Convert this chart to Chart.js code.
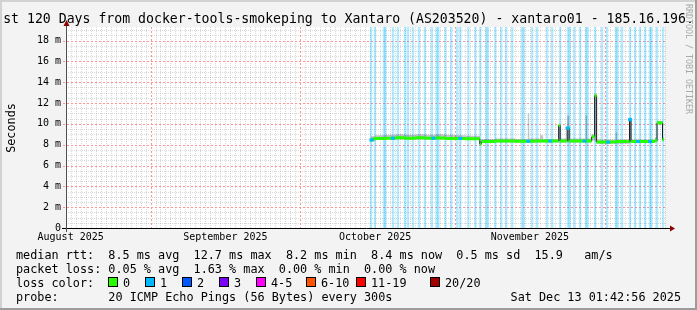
<!DOCTYPE html>
<html><head><meta charset="utf-8">
<script src="https://cdn.jsdelivr.net/npm/chart.js@4.4.0/dist/chart.umd.min.js"></script>
<style>html,body{margin:0;padding:0;background:#f3f3f3;}canvas{display:block;}</style>
</head><body>
<canvas id="c" width="697" height="310"></canvas>
<script>
// ---------- texts ----------
const TITLE = "st 120 Days from docker-tools-smokeping to Xantaro (AS203520) - xantaro01 - 185.16.196.";
const Y_LABEL = "Seconds";
const WATERMARK = "RRDTOOL / TOBI OETIKER";
const statsRows = [
  "median rtt:  8.5 ms avg  12.7 ms max  8.2 ms min  8.4 ms now  0.5 ms sd  15.9   am/s",
  "packet loss: 0.05 % avg  1.63 % max  0.00 % min  0.00 % now"
];
const lossLegendTitle = "loss color:";
const lossLegendLabels = ["0","1","2","3","4-5","6-10","11-19","20/20"];
const lossLegendColors = ["#26ff00","#00b8ff","#0059ff","#7e00ff","#ff00ff","#ff5500","#ff0000","#a10000"];
const probeText = "probe:       20 ICMP Echo Pings (56 Bytes) every 300s";
const dateText = "Sat Dec 13 01:42:56 2025";

// ---------- axes (x in days since Aug 15 01:42) ----------
const X_MIN = 0, X_MAX = 120;
const Y_MIN = 0, Y_MAX = 19.3;
const yTicks = [0,2,4,6,8,10,12,14,16,18];
const monthLabels = ["August 2025","September 2025","October 2025","November 2025"];
const monthLabelDays = [0.93, 31.93, 61.93, 92.93];
const monthStartDays = [16.93, 46.93, 77.93, 107.93];
const firstMidnight = 0.93;

// ---------- median rtt (ms), step values ----------
const medianTime  = [61.0, 61.6, 64, 66, 68, 70, 72, 74, 76, 78, 80, 82.9, 83.2, 86, 90, 94, 98.7, 99.0, 100.4, 100.8, 105.3, 105.9, 106.3, 108, 110, 112.9, 113.2, 116, 118, 118.3, 118.4, 119.5, 119.8];
const medianValue = [8.45, 8.6, 8.62, 8.66, 8.62, 8.66, 8.62, 8.64, 8.6, 8.6, 8.56, 8.05, 8.3, 8.35, 8.33, 8.35, 9.85, 8.35, 9.6, 8.35, 8.75, 12.7, 8.25, 8.25, 8.3, 10.4, 8.3, 8.3, 8.45, 8.35, 10.1, 8.5, 8.5];

// ---------- smoke (ms) ----------
const smokeTime = [61.0, 62, 64, 66, 68, 70, 72, 74, 76, 78, 80, 82.9, 83.2, 86, 90, 92.5, 92.8, 95.0, 95.6, 98.7, 99.0, 100.4, 100.8, 104.1, 104.4, 105.3, 105.9, 106.3, 110.1, 110.4, 112.9, 113.2, 118.0, 118.4, 119.5, 119.8];
const smokeLow  = [8.35, 8.45, 8.5, 8.5, 8.5, 8.5, 8.5, 8.5, 8.5, 8.45, 8.45, 7.9, 8.2, 8.2, 8.2, 8.2, 8.2, 8.2, 8.2, 8.2, 8.2, 8.2, 8.2, 8.2, 8.2, 8.4, 8.3, 8.1, 8.1, 8.1, 8.2, 8.15, 8.3, 9.95, 8.3, 8.3];
const smokeHigh = [8.8, 8.9, 8.95, 9.0, 8.95, 9.0, 8.95, 9.0, 8.95, 8.9, 8.85, 8.3, 8.55, 8.6, 8.55, 11.0, 8.6, 8.9, 8.55, 10.0, 8.6, 10.8, 8.6, 10.8, 8.6, 9.0, 12.9, 8.5, 9.2, 8.5, 10.6, 8.5, 8.7, 10.3, 8.7, 8.7];

// ---------- loss 1/20 background periods (days) ----------
const lossBarDays = [61.1, 61.9, 63.7, 64.0, 65.5, 66.5, 67.9, 68.5, 69.5, 70.7, 71.9, 73.3, 74.3, 74.6, 76.0, 77.2, 78.4, 79.0, 80.6, 82.0, 83.0, 84.2, 84.5, 86.0, 87.2, 88.2, 89.4, 91.4, 91.7, 93.4, 94.4, 96.4, 97.4, 99.0, 100.6, 100.9, 101.8, 103.0, 104.2, 104.5, 106.0, 107.4, 108.4, 110.2, 110.5, 111.4, 113.0, 114.0, 115.0, 116.0, 117.0, 117.3, 118.4, 119.6];
// times where the median itself carries 1/20 loss
const lossOnLineDays = [61.2, 65.5, 73.6, 79.0, 92.6, 97.0, 100.5, 103.9, 108.6, 113.0, 114.6, 117.0];

// ---------- build datasets ----------
function stepValueAt(t){ let v = medianValue[0]; for (let i=0;i<medianTime.length;i++) if (medianTime[i] <= t) v = medianValue[i]; return v; }
const greenData = [];
for (let i=0;i<medianTime.length-1;i++){
  greenData.push({x:medianTime[i], y:medianValue[i]});
  greenData.push({x:medianTime[i+1], y:medianValue[i]});
  greenData.push({x:medianTime[i+1], y:null});
}
const MONO = "'DejaVu Sans Mono', monospace";

const rrdPlugin = {
  id: 'rrd',
  beforeDraw(chart){
    const {ctx, chartArea:a} = chart;
    ctx.save();
    ctx.fillStyle = '#f3f3f3'; ctx.fillRect(0,0,chart.width,chart.height);
    ctx.fillStyle = '#ffffff'; ctx.fillRect(a.left, a.top, a.right-a.left, a.bottom-a.top);
    ctx.restore();
  },
  beforeDatasetsDraw(chart){
    const {ctx, chartArea:a, scales:{x,y}} = chart;
    ctx.save(); ctx.lineWidth = 1;
    const ln = (x1,y1,x2,y2)=>{ctx.beginPath();ctx.moveTo(x1,y1);ctx.lineTo(x2,y2);ctx.stroke();};
    ctx.setLineDash([1,1]);
    ctx.strokeStyle = 'rgba(128,128,128,0.3)';
    const majorPx = monthStartDays.map(d => Math.round(x.getPixelForValue(d)));
    for (let d = firstMidnight; d < X_MAX; d += 1){
      const p = Math.round(x.getPixelForValue(d));
      if (majorPx.includes(p)) continue;
      ln(p + 0.5, a.top, p + 0.5, a.bottom);
    }
    for (let k = 1; Y_MIN + k*0.5 < Y_MAX; k++){
      if (k % 4 === 0) continue;
      const py = Math.round(y.getPixelForValue(k*0.5)) + 0.5; ln(a.left, py, a.right, py);
    }
    ctx.setLineDash([2,2]);
    ctx.strokeStyle = 'rgb(255,150,150)';
    for (const p of majorPx){ ln(p + 0.5, a.top, p + 0.5, a.bottom + 3); }
    for (const v of yTicks){
      if (v === 0) continue;
      const py = Math.round(y.getPixelForValue(v)) + 0.5; ln(a.left - 3, py, a.right, py);
    }
    ctx.restore();
  },
  afterDatasetsDraw(chart){
    const {ctx, chartArea:a} = chart;
    ctx.save();
    ctx.lineWidth = 1;
    ctx.strokeStyle = '#000';
    ctx.beginPath(); ctx.moveTo(a.left - 4, a.bottom + 0.5); ctx.lineTo(a.right + 6, a.bottom + 0.5); ctx.stroke();
    ctx.strokeStyle = '#505050';
    ctx.beginPath(); ctx.moveTo(a.left + 0.5, a.bottom + 4); ctx.lineTo(a.left + 0.5, a.top - 4); ctx.stroke();
    ctx.fillStyle = '#8b0000';
    ctx.beginPath(); ctx.moveTo(a.right + 5, a.bottom - 2.5); ctx.lineTo(a.right + 10, a.bottom + 0.5); ctx.lineTo(a.right + 5, a.bottom + 3.5); ctx.closePath(); ctx.fill();
    ctx.beginPath(); ctx.moveTo(a.left - 2.5, a.top - 1); ctx.lineTo(a.left + 0.5, a.top - 7); ctx.lineTo(a.left + 3.5, a.top - 1); ctx.closePath(); ctx.fill();
    ctx.restore();
  },
  afterDraw(chart){
    const {ctx} = chart;
    ctx.save();
    ctx.fillStyle = '#000';
    ctx.font = "13.2px " + MONO; ctx.textAlign = 'center'; ctx.textBaseline = 'alphabetic';
    ctx.fillText(TITLE, 348.5, 22.5);
    ctx.save(); ctx.font = "11.8px " + MONO; ctx.translate(15.3, 128); ctx.rotate(-Math.PI/2);
    ctx.textAlign = 'center'; ctx.fillText(Y_LABEL, 0, 0); ctx.restore();
    ctx.save(); ctx.fillStyle = '#a8a8a8'; ctx.font = "8.3px " + MONO; ctx.translate(688.5, 4); ctx.rotate(Math.PI/2);
    ctx.textAlign = 'left'; ctx.textBaseline = 'middle'; ctx.fillText(WATERMARK, 0, 0); ctx.restore();
    ctx.font = "11.8px " + MONO; ctx.textAlign = 'left';
    ctx.fillText(statsRows[0], 16, 258.5);
    ctx.fillText(statsRows[1], 16, 272.5);
    ctx.fillText(lossLegendTitle, 16, 286.5);
    const boxX = [108.5, 145.5, 182.5, 219.5, 256.5, 306.5, 356.5, 430.5];
    lossLegendLabels.forEach((lab, i) => {
      ctx.fillStyle = lossLegendColors[i]; ctx.fillRect(boxX[i], 277.5, 9, 9);
      ctx.strokeStyle = '#000'; ctx.lineWidth = 1; ctx.strokeRect(boxX[i], 277.5, 9, 9);
      ctx.fillStyle = '#000'; ctx.fillText(lab, boxX[i] + 14.5, 286.5);
    });
    ctx.fillText(probeText, 16, 300.5);
    ctx.textAlign = 'right'; ctx.fillText(dateText, 681, 300.5);
    ctx.fillStyle = '#d2d2d2'; ctx.fillRect(0,0,chart.width,2); ctx.fillRect(0,0,2,chart.height);
    ctx.fillStyle = '#9c9c9c'; ctx.fillRect(0,chart.height-2,chart.width,2); ctx.fillRect(chart.width-2,0,2,chart.height);
    ctx.restore();
  }
};

new Chart(document.getElementById('c'), {
  type: 'line',
  data: {
    datasets: [
      { type:'bar', label:'loss 1/20', data: lossBarDays.map(d => ({x:d, y:Y_MAX})),
        backgroundColor:'rgba(0,184,255,0.3)', borderWidth:0, barThickness:1.7, order:10 },
      { label:'smoke low', data: smokeTime.map((t,i)=>({x:t, y:smokeLow[i]})), stepped:true,
        borderColor:'transparent', borderWidth:1, pointRadius:0, fill:false, order:6 },
      { label:'smoke high', data: smokeTime.map((t,i)=>({x:t, y:smokeHigh[i]})), stepped:true,
        borderColor:'transparent', borderWidth:1, pointRadius:0, fill:'-1', backgroundColor:'rgba(0,0,0,0.22)', order:5 },
      { label:'median', data: medianTime.map((t,i)=>({x:t, y:medianValue[i]})), stepped:true,
        borderColor:'#1a1a1a', borderWidth:1, pointRadius:0, fill:false, order:3 },
      { label:'median loss 0', data: greenData, borderColor:'#26ff00', borderWidth:3, borderCapStyle:'butt',
        pointRadius:0, fill:false, spanGaps:false, order:2 },
      { label:'median loss 1', data: lossOnLineDays.map(t => ({x:t, y:stepValueAt(t)})), showLine:false,
        pointStyle:'line', pointRadius:2, pointBorderWidth:3, pointBorderColor:'#00b8ff', order:1 }
    ]
  },
  options: {
    responsive:false, animation:false, events:[],
    layout:{ padding:{ left:0, top:27, right:32, bottom:0 } },
    plugins:{ legend:{display:false}, tooltip:{enabled:false}, title:{display:false} },
    scales:{
      x:{ type:'linear', min:X_MIN, max:X_MAX, offset:false,
          grid:{display:false, drawTicks:false}, border:{display:false},
          afterBuildTicks: s => { s.ticks = monthLabelDays.map(v => ({value:v})); },
          afterFit: s => { s.height = 82; },
          ticks:{ autoSkip:false, maxRotation:0, padding:3, color:'#000', font:{family:MONO, size:10},
                  callback:(v, i) => monthLabels[i] } },
      y:{ type:'linear', min:Y_MIN, max:Y_MAX,
          grid:{display:false, drawTicks:false}, border:{display:false},
          afterBuildTicks: s => { s.ticks = yTicks.map(v => ({value:v})); },
          afterFit: s => { s.width = 66; },
          ticks:{ padding:5, color:'#000', font:{family:MONO, size:10},
                  callback: v => v === 0 ? '0' : v + ' m' } }
    }
  },
  plugins:[rrdPlugin]
});
</script>
</body></html>
